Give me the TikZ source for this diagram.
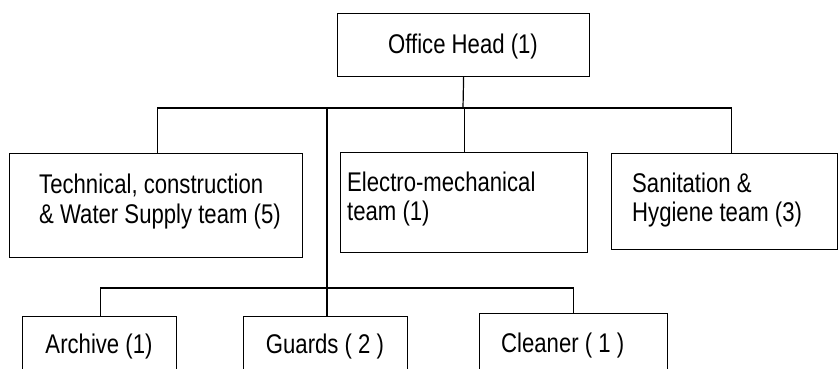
\documentclass[tikz,border=0pt]{standalone}
\usepackage{fontspec}
\setmainfont{Liberation Sans}[FakeStretch=0.82]
\begin{document}
\begin{tikzpicture}[x=1pt,y=-1pt,
  unit/.style={draw,line width=1.2pt,inner sep=0pt,anchor=north west},
  txt/.style={inner sep=0pt,font=\fontsize{27}{29.3}\selectfont},
  link/.style={line width=1.2pt}]
\useasboundingbox (0,0) rectangle (838,368);
\begin{scope}
\clip (0,0) rectangle (838,368);
% boxes
\node[unit,minimum width=252pt,minimum height=63pt] (head) at (337,13) {};
\node[unit,minimum width=293pt,minimum height=104pt] (tech) at (9,153) {};
\node[unit,minimum width=247pt,minimum height=100pt] (elec) at (340,152) {};
\node[unit,minimum width=226pt,minimum height=96pt] (san) at (611,153) {};
\node[unit,minimum width=154pt,minimum height=70pt] (arch) at (22,316) {};
\node[unit,minimum width=164pt,minimum height=70pt] (guards) at (243,316) {};
\node[unit,minimum width=188pt,minimum height=70pt] (clean) at (479,313) {};
% labels
\node[txt,anchor=base] (headT) at (463,53) {Office Head (1)};
\node[txt,anchor=base west] (techA) at (39,193) {Technical, construction};
\node[txt,anchor=base west] (techB) at (39,223) {\& Water Supply team (5)};
\node[txt,anchor=base west] (elecA) at (347,191) {Electro-mechanical};
\node[txt,anchor=base west] (elecB) at (347,220) {team (1)};
\node[txt,anchor=base west] (sanA) at (632,192) {Sanitation \&};
\node[txt,anchor=base west] (sanB) at (632,221) {Hygiene team (3)};
\node[txt,anchor=base] (archT) at (99,353) {Archive (1)};
\node[txt,anchor=base] (guardsT) at (325,353) {Guards ( 2 )};
\node[txt,anchor=base west] (cleanT) at (501,352) {Cleaner ( 1 )};
% junctions
\coordinate (j0) at (463,108);
\coordinate (j1) at (327,108);
\coordinate (j2) at (327,288);
% connectors
\draw[link] (head.south) -- (j0);
\draw[link] ([xshift=1.5pt]tech.north) |- (j0) -| ([xshift=7pt]san.north);
\draw[link] (elec.north) -- (elec.north |- j0);
\draw[link] (j1) -- (guards.north -| j1);
\draw[link] ([xshift=1pt]arch.north) |- (j2) -| (clean.north);
\end{scope}
\end{tikzpicture}
\end{document}
